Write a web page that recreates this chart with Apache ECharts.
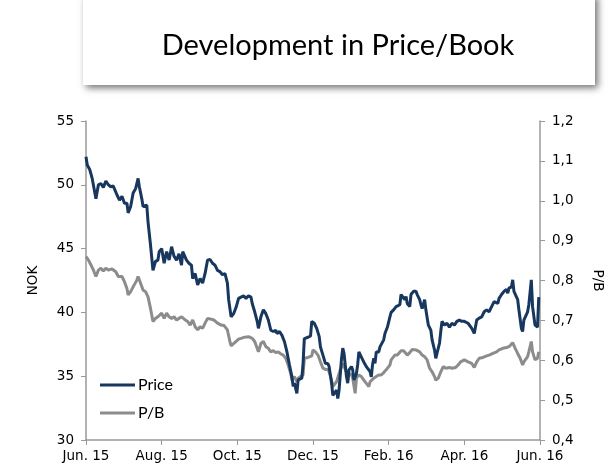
<!DOCTYPE html>
<html><head><meta charset="utf-8">
<script src="https://cdn.jsdelivr.net/npm/echarts@6/dist/echarts.min.js"></script>
<style>html,body{margin:0;padding:0;background:#fff}#c{width:612px;height:473px}</style>
</head><body><div id="c"></div>
<script>
// x tick labels (every 2 months)
const tickLabels = ["Jun. 15","Aug. 15","Oct. 15","Dec. 15","Feb. 16","Apr. 16","Jun. 16"];
// days since 1 Jun 2015 for each price observation
const priceDays = [0,1,3,5,8,10,12,14,16,18,20,22,25,27,29,31,33,34,36,38,40,42,43,45,46,49,50,52,54,56,58,59,61,63,65,67,69,71,73,75,77,78,81,83,85,86,88,90,92,94,96,98,100,102,104,106,108,110,112,114,115,117,119,121,123,125,127,129,131,133,134,136,138,139,141,143,145,147,149,151,153,154,156,158,160,162,164,166,167,168,170,171,172,174,175,176,179,181,182,184,186,188,189,191,193,195,196,198,199,200,202,203,204,206,207,208,210,211,212,214,215,216,218,219,220,222,224,226,229,230,231,232,233,234,236,237,238,240,241,243,245,246,248,250,253,254,255,257,258,259,261,262,264,266,267,269,270,271,273,274,276,278,279,281,282,283,285,286,287,289,291,293,295,297,299,301,303,305,308,311,313,315,317,319,321,323,325,327,329,330,332,333,335,337,339,340,341,343,344,345,348,349,351,352,353,356,357,359,360,362,364,365];
// share price, NOK
const price = [52.2,51.55,51.2,50.5,48.9,50.0,50.1,49.8,50.3,50.0,49.85,49.9,49.2,48.8,49.1,48.55,48.55,47.8,48.3,49.35,49.7,50.5,49.85,48.9,48.3,48.4,47.1,45.3,43.3,44.0,44.1,44.76,45.0,43.85,44.76,44.1,45.15,44.4,44.1,44.6,43.7,44.76,44.1,43.85,43.7,42.65,43.05,42.15,42.65,42.3,43.05,44.1,44.15,43.85,43.7,43.3,43.2,42.95,43.05,42.3,41.0,39.65,39.9,40.4,41.1,41.2,41.3,41.1,41.3,41.2,40.7,40.05,39.3,38.75,39.65,40.2,39.9,39.4,38.6,38.5,38.6,38.35,38.5,38.2,37.7,36.9,35.9,34.95,34.2,34.45,33.65,34.7,34.85,34.85,36.0,37.95,38.05,38.15,39.3,39.15,38.75,38.1,37.3,36.65,36.0,36.0,35.75,34.45,33.5,33.65,33.9,33.25,33.9,36.4,37.2,36.8,34.95,34.45,35.5,35.75,35.5,34.7,35.2,35.9,36.9,36.5,36.1,35.75,35.35,34.95,35.9,36.4,36.0,36.9,36.9,37.3,37.2,37.85,38.35,38.85,39.65,40.0,40.2,40.45,40.6,41.4,41.25,41.0,41.25,40.7,40.45,41.4,41.65,41.65,41.4,41.0,40.6,40.3,41.0,40.2,39.0,38.6,37.85,37.05,36.4,36.8,37.6,38.5,39.3,39.0,39.15,38.85,39.15,39.0,39.3,39.4,39.3,39.3,39.15,38.75,38.35,39.4,39.55,39.65,40.05,40.2,40.05,40.45,40.85,41.0,40.7,41.1,41.4,41.65,41.8,41.5,41.9,42.0,42.55,41.65,41.0,40.2,38.75,38.5,39.4,40.05,40.6,42.55,40.45,39.0,38.85,41.2];
// days since 1 Jun 2015 for each P/B observation
const pbDays = [0,2,4,6,8,10,12,14,16,18,21,24,26,29,31,33,34,36,38,41,42,44,46,48,50,52,54,56,58,59,61,63,65,67,69,71,73,75,77,78,80,82,84,86,88,90,92,94,96,98,101,103,106,109,111,114,116,117,119,120,123,125,128,131,134,136,138,139,141,143,145,147,149,151,153,155,157,159,161,163,165,166,168,170,171,173,175,176,179,182,183,185,187,189,191,193,195,196,198,199,200,202,203,205,207,208,210,211,212,214,215,217,218,220,222,224,226,228,229,230,232,234,236,238,240,242,245,246,249,251,254,256,257,259,261,263,266,269,271,273,274,275,277,279,281,282,284,286,288,290,293,295,298,300,302,305,308,311,313,315,317,320,323,325,328,331,333,336,339,341,344,346,348,350,352,353,356,357,359,360,362,364,365];
// price / book ratio
const pb = [0.860,0.851,0.839,0.826,0.810,0.826,0.831,0.824,0.831,0.826,0.829,0.822,0.810,0.810,0.797,0.780,0.764,0.772,0.784,0.801,0.810,0.793,0.776,0.772,0.759,0.730,0.697,0.705,0.709,0.713,0.718,0.705,0.718,0.709,0.705,0.709,0.701,0.705,0.709,0.713,0.701,0.697,0.688,0.701,0.684,0.676,0.684,0.680,0.693,0.705,0.703,0.701,0.693,0.688,0.688,0.676,0.647,0.636,0.642,0.647,0.653,0.655,0.658,0.659,0.655,0.647,0.630,0.621,0.642,0.647,0.634,0.630,0.621,0.624,0.619,0.621,0.616,0.613,0.605,0.588,0.567,0.550,0.559,0.546,0.555,0.559,0.563,0.605,0.607,0.611,0.626,0.621,0.613,0.596,0.580,0.577,0.577,0.571,0.550,0.534,0.538,0.546,0.542,0.576,0.592,0.584,0.571,0.550,0.567,0.563,0.555,0.517,0.555,0.563,0.559,0.550,0.542,0.534,0.546,0.550,0.555,0.559,0.563,0.563,0.569,0.576,0.588,0.601,0.613,0.613,0.624,0.624,0.626,0.613,0.619,0.627,0.626,0.621,0.613,0.609,0.613,0.601,0.580,0.571,0.559,0.550,0.555,0.571,0.584,0.580,0.582,0.580,0.582,0.588,0.596,0.601,0.596,0.592,0.582,0.596,0.605,0.607,0.611,0.613,0.617,0.621,0.626,0.630,0.632,0.634,0.644,0.630,0.617,0.605,0.588,0.596,0.609,0.621,0.647,0.621,0.601,0.605,0.621];

const titleText = "Development in Price/Book";
const seriesNames = ["Price", "P/B"];

const chart = echarts.init(document.getElementById('c'), null, {renderer: 'canvas'});
const axisFont = '"DejaVu Sans", Verdana, sans-serif';
chart.setOption({
  animation: false,
  backgroundColor: '#ffffff',
  graphic: [
    {type: 'rect', z: 0, shape: {x: 83, y: -6, width: 512, height: 91},
     style: {fill: '#ffffff', shadowBlur: 7, shadowOffsetX: 3, shadowOffsetY: 3, shadowColor: 'rgba(0,0,0,0.55)'}},
    {type: 'text', z: 1, x: 338, y: 46,
     style: {text: titleText, font: '29px Lato, "Open Sans", sans-serif', fill: '#000', align: 'center', verticalAlign: 'middle'}}
  ],
  grid: {left: 86, right: 69, top: 121, bottom: 33, containLabel: false},
  legend: {
    orient: 'vertical', left: 95, top: 372, itemWidth: 35, itemHeight: 3, itemGap: 12,
    icon: 'rect',
    textStyle: {fontFamily: 'Lato, "Open Sans", sans-serif', fontSize: 16, color: '#000', padding: [0,0,0,-2]},
    data: seriesNames
  },
  xAxis: {
    type: 'value', min: 0, max: 366, interval: 61,
    axisLine: {lineStyle: {color: '#999', width: 1.5}},
    axisTick: {show: true, length: 5, lineStyle: {color: '#999'}},
    splitLine: {show: false},
    axisLabel: {color: '#000', fontFamily: axisFont, fontSize: 13.5, margin: 9,
      formatter: v => tickLabels[Math.round(v / 61)] || ''}
  },
  yAxis: [
    {type: 'value', min: 30, max: 55, interval: 5, name: 'NOK', nameLocation: 'middle', nameGap: 46,
     nameTextStyle: {color: '#000', fontFamily: axisFont, fontSize: 13.5},
     axisLine: {show: true, lineStyle: {color: '#999', width: 1.5}},
     axisTick: {show: true, length: 5, lineStyle: {color: '#999'}},
     splitLine: {show: false},
     axisLabel: {color: '#000', fontFamily: axisFont, fontSize: 13.5, margin: 12}},
    {type: 'value', min: 0.4, max: 1.2, interval: 0.1, name: 'P/B', nameLocation: 'middle', nameGap: 50, nameRotate: -90,
     nameTextStyle: {color: '#000', fontFamily: axisFont, fontSize: 13.5},
     axisLine: {show: true, lineStyle: {color: '#999', width: 1.5}},
     axisTick: {show: true, length: 5, lineStyle: {color: '#999'}},
     splitLine: {show: false},
     axisLabel: {color: '#000', fontFamily: axisFont, fontSize: 13.5, margin: 12,
       formatter: v => v.toFixed(1).replace('.', ',')}}
  ],
  series: [
    {name: seriesNames[0], type: 'line', yAxisIndex: 0, symbol: 'none', showSymbol: false,
     lineStyle: {color: '#17375E', width: 3}, itemStyle: {color: '#17375E'}, z: 3,
     data: priceDays.map((d, i) => [d, price[i]])},
    {name: seriesNames[1], type: 'line', yAxisIndex: 1, symbol: 'none', showSymbol: false,
     lineStyle: {color: '#8C8C8C', width: 3}, itemStyle: {color: '#8C8C8C'}, z: 2,
     data: pbDays.map((d, i) => [d, pb[i]])}
  ]
});
</script></body></html>
